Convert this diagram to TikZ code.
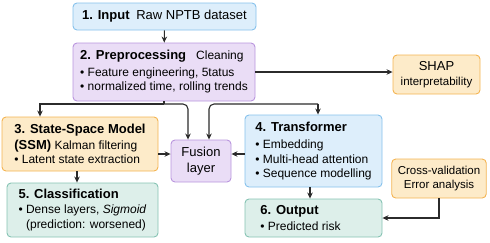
\documentclass[tikz,border=0pt]{standalone}
\usepackage{fontspec}
\setmainfont{Liberation Sans}
\usetikzlibrary{arrows.meta}
\definecolor{inputblue}{HTML}{DDEEFB}
\definecolor{inputblueline}{HTML}{86C1EC}
\definecolor{prepurple}{HTML}{EADDF6}
\definecolor{prepurpleline}{HTML}{B995DE}
\definecolor{ssmorange}{HTML}{FDEBC9}
\definecolor{ssmorangeline}{HTML}{F4B452}
\definecolor{outteal}{HTML}{DDEFEA}
\definecolor{outtealline}{HTML}{86C3B3}
\definecolor{linegray}{HTML}{2B2B2B}
\newcommand{\stagehead}[1]{{\fontsize{13}{15}\selectfont\bfseries #1}}
\tikzset{
  stagebox/.style={rounded corners=4pt, line width=0.9pt, inner xsep=6pt, inner ysep=3pt,
                   align=left, text=black, font=\fontsize{12}{14.5}\selectfont},
  bluebox/.style={stagebox, fill=inputblue, draw=inputblueline},
  purplebox/.style={stagebox, fill=prepurple, draw=prepurpleline},
  orangebox/.style={stagebox, fill=ssmorange, draw=ssmorangeline},
  tealbox/.style={stagebox, fill=outteal, draw=outtealline},
  flowarrow/.style={-{Stealth[length=6pt, width=5.5pt]}, line width=1.1pt, linegray},
  flowline/.style={line width=1.1pt, linegray},
}

\begin{document}
\begin{tikzpicture}[x=1pt, y=-1pt]
  \useasboundingbox (0,0) rectangle (490,242);
  % stages
  \node[bluebox, minimum width=183pt, minimum height=27pt, align=center] (input) at (164.5,16.5)
    {\stagehead{1. Input}\ \ {\fontsize{13}{15}\selectfont Raw NPTB dataset}};
  \node[purplebox, minimum width=182pt, minimum height=58pt] (prep) at (164,72)
    {\stagehead{2. Preprocessing}\ \ \ Cleaning\\[2pt]
     • Feature engineering, 5tatus\\
     • normalized time, rolling trends};
  \node[orangebox, minimum width=87pt, minimum height=39pt, align=center] (shap) at (436.5,74.5)
    {{\fontsize{13}{14}\selectfont SHAP}\\{\fontsize{11.5}{13}\selectfont interpretability}};
  \node[orangebox, minimum width=156pt, minimum height=54pt] (ssm) at (80,144)
    {\stagehead{3. State-Space Model}\\[1pt]
     \stagehead{(SSM)}\ Kalman filtering\\
     • Latent state extraction};
  \node[purplebox, minimum width=60pt, minimum height=42pt, align=center,
        font=\fontsize{13}{16}\selectfont] (fusion) at (201,161) {Fusion\\layer};
  \node[tealbox, minimum width=151pt, minimum height=54pt] (cls) at (82.5,210)
    {\stagehead{5. Classification}\\[1pt]
     • Dense layers, \textit{Sigmoid}\\
     \phantom{• }(prediction: worsened)};
  \node[bluebox, minimum width=137pt, minimum height=72pt] (tr) at (313.5,151)
    {\stagehead{4. Transformer}\\[3pt]
     • Embedding\\
     • Multi-head attention\\
     • Sequence modelling};
  \node[orangebox, minimum width=92pt, minimum height=39pt, align=center,
        font=\fontsize{11.5}{14}\selectfont] (cv) at (439,178.5)
    {Cross-validation\\Error analysis};
  \node[tealbox, minimum width=137pt, minimum height=38pt] (out) at (313.5,218)
    {\stagehead{6. Output}\qquad\qquad\qquad\\[1pt]
     • Predicted risk};
  % connectors
  \coordinate (split) at (164,104);
  \coordinate (trsplit) at (318,104);
  \draw[flowarrow] (input) -- (prep);
  \draw[flowarrow] (prep.east) -- (prep.east -| shap.west);
  \draw[flowline] (prep.south) -- (split);
  \draw[flowarrow] (split) -| ([xshift=-40pt]ssm.north);
  \draw[flowarrow, rounded corners=5pt] (split) -| ([xshift=-13pt]fusion.north);
  \draw[flowarrow] (trsplit) -- ([xshift=4.5pt]tr.north);
  \draw[flowarrow, rounded corners=5pt] (trsplit) -| ([xshift=8pt]fusion.north);
  \draw[flowarrow] ([yshift=7pt]fusion.west -| ssm.east) -- ([yshift=7pt]fusion.west);
  \draw[flowarrow] ([yshift=7pt]fusion.east -| tr.west) -- ([yshift=7pt]fusion.east);
  \draw[flowarrow] ([xshift=-3pt]ssm.south) -- ([xshift=-3pt]ssm.south |- cls.north);
  \draw[flowarrow] ([xshift=-3.5pt]tr.south) -- ([xshift=-3.5pt]tr.south |- out.north);
  \draw[flowarrow] (cv.south) |- (out.east);
\end{tikzpicture}
\end{document}
